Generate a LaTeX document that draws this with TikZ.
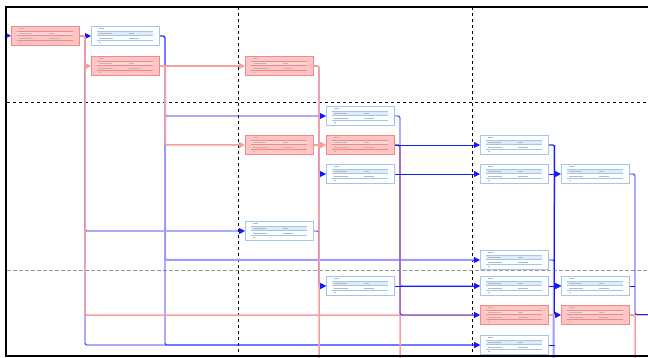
\documentclass[tikz,border=0pt]{standalone}
\usetikzlibrary{arrows.meta}
\definecolor{critfill}{HTML}{FFC4C4}
\definecolor{critdraw}{HTML}{F08A8A}
\definecolor{normdraw}{HTML}{A0C6F0}
\definecolor{txtgray}{HTML}{B8B8B8}
\definecolor{redline}{HTML}{F5A0A0}
\definecolor{blueline}{HTML}{1818FF}
\definecolor{lavline}{HTML}{9C9CFF}
\newcommand{\taskinside}[2]{%
  \begin{scope}[shift={(#1.north west)}]
    \fill[#2!35] (6,5) rectangle (62,9.7);
    \draw[#2, line width=0.7pt] (6,5) -- (62,5) (6,9.7) -- (62,9.7) (6,14.3) -- (62,14.3);
    \fill[txtgray] (8,2.1) rectangle (13,2.9);
    \fill[txtgray] (8,7) rectangle (21,7.8);
    \fill[txtgray] (38,7) rectangle (43,7.8);
    \fill[txtgray] (8,11.6) rectangle (22,12.4);
    \fill[txtgray] (38,11.6) rectangle (48,12.4);
    \fill[txtgray] (8,16.3) rectangle (10,17.1);
  \end{scope}}
\tikzset{
  taskbase/.style={anchor=north west, inner sep=0pt, minimum width=68pt, minimum height=19pt, line width=1pt},
  crit/.style={taskbase, fill=critfill, draw=critdraw},
  norm/.style={taskbase, fill=white, draw=normdraw},
  bl/.style={draw=blueline, line width=0.9pt, rounded corners=1.5pt, -{Triangle[length=6pt,width=6pt]}},
  blx/.style={draw=blueline, line width=0.9pt, rounded corners=1.5pt},
  lav/.style={draw=lavline, line width=2pt, rounded corners=1.5pt},
  rd/.style={draw=redline, line width=1.5pt, rounded corners=1.5pt, -{Triangle[length=6pt,width=6pt]}},
  rdx/.style={draw=redline, line width=1.5pt, rounded corners=1.5pt},
  gridblk/.style={dash pattern=on 3pt off 3pt, line width=0.6pt, black},
  gridgray/.style={dash pattern=on 3.5pt off 2.5pt, line width=1.1pt, gray!80},
}
\begin{document}
\begin{tikzpicture}[x=1pt, y=-1pt]
\useasboundingbox (0,0) rectangle (648,358);
\clip (0,0) rectangle (648,358);
\fill[white] (0,0) rectangle (648,358);
% grid
\draw[gridblk] (7,102) -- (648,102);
\draw[gridgray] (7,270.5) -- (648,270.5);
\draw[gridblk] (238,7) -- (238,356);
\draw[gridblk] (472,7) -- (472,356);
% free ends
\coordinate (src0) at (6,35.5);
\coordinate (bot318) at (318,370);
\coordinate (bot399) at (399,370);
\coordinate (bot553) at (553.5,370);
\coordinate (bot633) at (633,370);
\coordinate (right315) at (670,314.5);
% nodes
\node[crit] (t1) at (11,26) {};
\node[norm] (t2) at (91,26) {};
\node[crit] (t3) at (91,56) {};
\node[crit] (t4) at (245,56) {};
\node[norm] (t5) at (326,106) {};
\node[crit] (t6) at (245,135) {};
\node[crit] (t7) at (326,135) {};
\node[norm] (t8) at (326,164) {};
\node[norm] (t9) at (480,135) {};
\node[norm] (t10) at (480,164) {};
\node[norm] (t11) at (561,164) {};
\node[norm] (t12) at (245,221) {};
\node[norm] (t13) at (480,250) {};
\node[norm] (t14) at (326,276) {};
\node[norm] (t15) at (480,276) {};
\node[norm] (t16) at (561,276) {};
\node[crit] (t17) at (480,305) {};
\node[crit] (t18) at (561,305) {};
\node[norm] (t19) at (480,335) {};
\foreach \n in {t1,t3,t4,t6,t7,t17,t18} {\taskinside{\n}{critdraw}}
\foreach \n in {t2,t5,t8,t9,t10,t11,t12,t13,t14,t15,t16,t19} {\taskinside{\n}{normdraw}}
% blue connectors
\draw[bl] (src0) -- (t1.west);
\draw[bl] (t1.east) -- (t2.west);
\draw[bl] (t1.east) -- ++(5,0) |- (t12.west);
\draw[bl] (t1.east) -- ++(5,0) |- (t19.west);
\draw[bl] (t2.east) -- ++(5,0) |- (t5.west);
\draw[bl] (t2.east) -- ++(5,0) |- (t19.west);
\draw[bl] (t5.east) -- ++(5,0) |- (t15.west);
\draw[bl] (t4.east) -- ++(5,0) |- (t8.west);
\draw[bl] (t6.east) -- ++(5,0) |- (t14.west);
\draw[bl] (t12.east) -- ++(5,0) |- (t14.west);
% lavender connectors
\draw[lav] (t2.east) ++(5,0) ++(0,30) |- ([xshift=-6pt]t13.west);
\draw[bl] ([xshift=-7pt]t13.west) -- (t13.west);
\draw[lav] (t9.east) ++(5.5,0) -- (bot553);
% red connectors
\draw[rd] (t1.east) -- ++(5,0) |- (t3.west);
\draw[rd] (t1.east) -- ++(5,0) |- (t17.west);
\draw[rd] (t3.east) -- (t4.west);
\draw[rd] (t3.east) -- ++(5,0) |- (t6.west);
\draw[rd] (t4.east) -- ++(5,0) |- (t7.west);
\draw[rd] (t6.east) -- (t7.west);
\draw[rdx] (t6.east) -- ++(5,0) |- (bot318);
\draw[rdx] (t7.east) -- ++(5,0) |- (bot399);
\draw[rd] (t17.east) -- (t18.west);
\draw[rdx] (t18.east) -- ++(5,0) |- (bot633);
\draw[rdx] (t18.east) -- (right315);
% blue connectors on top
\draw[bl] (t7.east) -- (t9.west);
\draw[bl] (t7.east) -- ++(5,0) |- (t17.west);
\draw[bl] (t8.east) -- (t10.west);
\draw[bl] (t14.east) -- (t15.west);
\draw[bl] (t9.east) -- ++(5.5,0) |- (t16.west);
\draw[bl] (t9.east) -- ++(5.5,0) |- (t18.west);
\draw[bl] (t13.east) -- ++(5.5,0) |- (t16.west);
\draw[bl] (t10.east) -- (t11.west);
\draw[bl] (t15.east) -- (t16.west);
\draw[blx] (t19.east) -- ++(5.5,0);
\draw[blx] (t11.east) -- ++(5,0) |- (right315);
\draw[blx] (t16.east) -- ++(5,0);
% frame
\draw[line width=2.5pt] (6,7) rectangle (700,356);
\end{tikzpicture}
\end{document}
